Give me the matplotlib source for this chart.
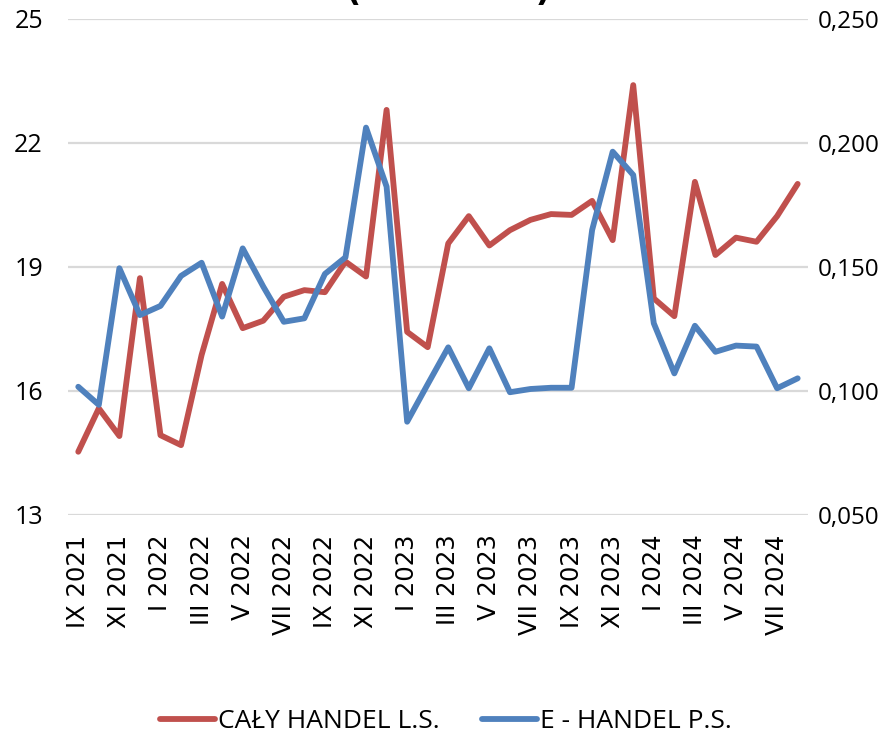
import matplotlib
matplotlib.use('Agg')
import matplotlib.pyplot as plt
from matplotlib.ticker import FixedLocator, FuncFormatter

# monthly data, IX 2021 - VIII 2024
roman = ["I", "II", "III", "IV", "V", "VI", "VII", "VIII", "IX", "X", "XI", "XII"]
months = [f"{roman[(8 + i) % 12]} {2021 + (8 + i) // 12}" for i in range(36)]

caly_handel = [14.53, 15.58, 14.91, 18.73, 14.93, 14.69, 16.87, 18.59, 17.52, 17.70,
               18.28, 18.44, 18.39, 19.13, 18.77, 22.80, 17.43, 17.06, 19.57, 20.23,
               19.52, 19.89, 20.14, 20.28, 20.26, 20.60, 19.65, 23.40, 18.24, 17.81,
               21.06, 19.29, 19.71, 19.61, 20.23, 21.01]
e_handel = [0.1017, 0.0944, 0.1495, 0.1306, 0.1343, 0.1464, 0.1517, 0.1300, 0.1575, 0.1421,
            0.1279, 0.1293, 0.1472, 0.1539, 0.2062, 0.1824, 0.0876, 0.1027, 0.1176, 0.1011,
            0.1172, 0.0995, 0.1008, 0.1013, 0.1013, 0.1649, 0.1965, 0.1871, 0.1273, 0.1071,
            0.1263, 0.1158, 0.1183, 0.1179, 0.1011, 0.1051]

left_ticks = [13, 16, 19, 22, 25]
right_ticks = [0.050, 0.100, 0.150, 0.200, 0.250]

RED = "#C0504D"
BLUE = "#4F81BD"
GRID = "#D9D9D9"

fig = plt.figure(figsize=(8.83, 7.36), dpi=100)
ax = fig.add_axes([0.077, 0.3003, 0.838, 0.6739])
ax2 = ax.twinx()

x = list(range(len(months)))
l1, = ax.plot(x, caly_handel, color=RED, lw=4.2, solid_capstyle='round',
              solid_joinstyle='round', label="CAŁY HANDEL L.S.", zorder=3)
l2, = ax2.plot(x, e_handel, color=BLUE, lw=4.2, solid_capstyle='round',
               solid_joinstyle='round', label="E - HANDEL P.S.", zorder=3)

ax.set_xlim(-0.5, len(months) - 0.5)
ax.set_ylim(13, 25)
ax2.set_ylim(0.05, 0.25)
ax.yaxis.set_major_locator(FixedLocator(left_ticks))
ax2.yaxis.set_major_locator(FixedLocator(right_ticks))
ax2.yaxis.set_major_formatter(FuncFormatter(lambda v, p: f"{v:.3f}".replace(".", ",")))

ax.set_xticks(x[::2])
ax.set_xticklabels(months[::2], rotation=90, fontsize=17.5, family="DejaVu Sans")

ax.grid(axis='y', color=GRID, lw=1.6)
ax.set_axisbelow(True)
for a in (ax, ax2):
    for s in a.spines.values():
        s.set_visible(False)
    a.tick_params(length=0)
ax.tick_params(axis='y', pad=18, labelsize=18)
ax.tick_params(axis='x', pad=14)
ax2.tick_params(axis='y', pad=7, labelsize=17.5)
for lab in ax.get_yticklabels() + ax2.get_yticklabels():
    lab.set_family("Open Sans")

# title cut off at the top of the picture
fig.text(0.508, 1.012, "(               )", ha='center', va='center',
         fontsize=24, fontweight='bold', family="DejaVu Sans")

fig.legend(handles=[l1, l2], loc='center', bbox_to_anchor=(0.505, 0.02),
           ncol=2, frameon=False, prop={'family': 'Open Sans', 'size': 19},
           handlelength=2.1, handletextpad=0.1, columnspacing=1.6)

fig.savefig("out.png", dpi=100, facecolor='white')
